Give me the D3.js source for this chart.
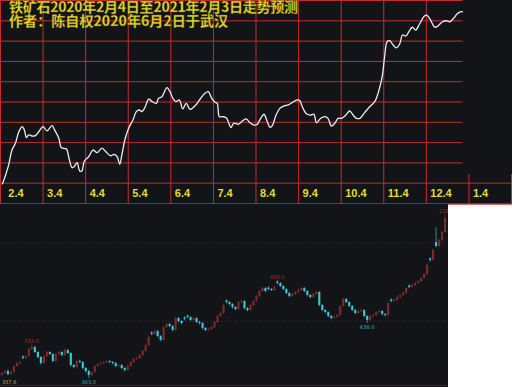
<!DOCTYPE html>
<html>
<head>
<meta charset="utf-8">
<script src="https://cdn.jsdelivr.net/npm/d3@7"></script>
<style>
    body { margin: 0; background: #131417; }
    svg { display: block; }
</style>
</head>
<body>
<div id="chart"></div>
<script>
// ---- data ----
var titleLines = ['铁矿石2020年2月4日至2021年2月3日走势预测', '作者：陈自权2020年6月2日于武汉'];
var monthLabels = ['2.4', '3.4', '4.4', '5.4', '6.4', '7.4', '8.4', '9.4', '10.4', '11.4', '12.4', '1.4'];

// forecast line: months since Feb 4, value in % of grid height
var forecastMonth = [0.04,0.12,0.19,0.27,0.35,0.43,0.51,0.56,0.61,0.66,
    0.74,0.82,0.90,1.00,1.09,1.21,1.27,1.37,1.43,1.55,
    1.60,1.68,1.73,1.80,1.86,1.91,1.97,2.07,2.17,2.27,
    2.38,2.46,2.58,2.67,2.74,2.80,2.85,2.93,3.01,3.11,
    3.19,3.26,3.32,3.40,3.48,3.56,3.66,3.71,3.79,3.91,
    3.98,4.05,4.12,4.20,4.28,4.36,4.45,4.57,4.69,4.80,
    4.88,4.96,5.04,5.09,5.14,5.22,5.30,5.35,5.41,5.48,
    5.59,5.66,5.77,5.86,5.95,6.03,6.11,6.19,6.25,6.33,
    6.39,6.47,6.56,6.66,6.76,6.86,6.95,7.03,7.07,7.17,
    7.27,7.36,7.42,7.52,7.62,7.69,7.77,7.85,7.93,8.01,
    8.11,8.20,8.28,8.36,8.44,8.55,8.67,8.79,8.84,8.91,
    8.97,9.02,9.08,9.14,9.22,9.30,9.38,9.44,9.52,9.59,
    9.67,9.75,9.84,9.94,10.01,10.09,10.20,10.27,10.38,10.47,
    10.55,10.64,10.72,10.80,10.86];
var forecastValue = [9.3,13.9,18.8,26.2,29.5,35.2,37.7,36.1,32.3,33.6,
    33.1,33.3,35.2,37.7,35.6,38.2,36.1,32.0,27.3,26.7,
    22.9,17.5,18.0,20.0,15.9,15.9,20.8,22.9,26.2,24.9,
    27.1,25.7,23.4,24.1,22.9,19.2,23.8,32.0,36.9,41.0,
    45.1,45.9,45.1,47.5,51.3,50.0,49.2,51.6,52.4,56.9,
    54.9,51.6,50.0,50.8,46.4,49.2,46.2,48.0,51.3,54.1,
    54.9,51.6,49.7,49.2,42.6,42.6,42.1,40.1,37.2,39.4,
    38.9,40.1,41.5,39.6,38.5,38.9,41.8,43.8,41.0,37.4,
    38.5,43.4,46.7,47.9,48.4,49.7,50.8,50.5,48.4,44.3,
    43.4,43.8,39.6,41.8,42.6,41.8,38.0,39.4,41.8,41.8,
    43.4,45.4,43.4,41.8,41.8,44.6,47.5,50.0,52.4,57.4,
    63.1,72.1,79.5,80.0,77.9,76.5,78.7,82.8,82.3,84.4,
    86.6,85.2,88.2,91.8,92.6,90.5,86.6,87.2,89.3,89.8,
    89.3,91.0,93.1,94.2,94.2];

// candles (price)
var candleOpen = [378,388,398,383,393,423,438,470,463,473,
    508,518,493,468,438,473,493,483,448,483,
    493,478,503,488,428,418,448,443,413,398,
    378,393,423,433,438,443,448,443,438,423,
    428,413,403,423,443,458,463,478,498,528,
    590,583,598,573,553,618,633,623,603,663,
    648,665,675,668,653,663,643,638,613,603,
    608,618,643,673,688,750,743,733,718,708,
    743,748,713,703,728,748,773,798,813,815,
    808,803,845,838,823,808,788,773,783,793,
    803,813,798,778,768,783,793,728,703,693,
    673,663,668,678,723,758,743,723,703,688,
    698,703,673,653,673,678,693,698,683,678,
    755,748,753,768,778,788,825,818,828,838,
    848,863,883,960,953,1043,1023,1053,1093];
var candleClose = [388,398,383,393,423,438,443,463,473,508,
    518,493,468,438,473,493,483,448,483,493,
    478,503,488,428,418,448,443,413,398,378,
    393,423,433,438,443,448,443,438,423,428,
    413,403,423,443,458,463,478,498,528,568,
    583,598,573,553,618,633,623,603,663,648,
    638,658,668,653,663,643,638,613,603,608,
    618,643,673,688,728,743,733,718,708,743,
    748,713,703,728,748,773,798,813,798,808,
    803,818,838,823,808,788,773,783,793,803,
    813,798,778,768,783,793,728,703,693,673,
    663,668,678,723,758,743,723,703,688,698,
    703,673,653,673,678,693,698,683,678,738,
    748,753,768,778,788,813,818,828,838,848,
    863,883,928,953,1003,1023,1053,1093,1163];
var candleHigh = [395,404,406,400,428,446,450,478,480,515,
    533,524,499,473,480,500,498,489,490,501,
    497,512,508,493,434,453,455,447,418,404,
    399,428,440,446,449,455,453,449,442,435,
    432,418,429,448,465,470,484,505,535,575,
    598,606,603,578,624,640,638,628,670,668,
    653,672,680,672,670,667,650,642,618,614,
    624,649,680,695,735,757,748,738,722,750,
    756,752,718,734,755,780,805,820,818,822,
    813,826,853,843,827,812,793,790,799,810,
    820,818,802,783,789,800,797,733,708,697,
    678,675,684,729,765,763,747,728,708,705,
    710,707,677,679,685,699,705,702,688,744,
    762,760,775,784,795,819,832,835,845,855,
    870,890,935,968,1010,1118,1060,1100,1183];
var candleLow = [372,383,376,378,389,418,431,456,458,468,
    503,488,462,430,433,466,477,441,443,477,
    471,474,483,421,411,413,437,406,390,363,
    371,388,418,428,432,438,437,431,416,418,
    407,396,399,418,437,452,458,473,493,522,
    576,578,566,546,548,612,617,596,598,641,
    631,651,662,646,648,637,630,606,597,598,
    603,613,638,668,683,736,726,711,701,703,
    737,706,696,698,722,743,768,792,791,802,
    797,798,831,817,801,781,767,768,778,788,
    797,792,771,761,763,777,721,696,686,666,
    656,657,663,673,718,737,716,697,681,683,
    692,666,638,648,667,673,688,677,671,673,
    741,743,748,762,773,783,811,813,822,833,
    843,858,878,945,948,1016,1017,1047,1088];

var priceGrid = [1040, 648];
// candles that carry a high / low price tag
var markIndex = [10, 29, 92, 122, 148];
var markSide = ['high', 'low', 'high', 'low', 'high'];
var startLabel = '357.6';

/**
 * Constructor for the forecast picture (line chart on top, k-line below)
 */
function ForecastChart() {
    var self = this;
    self.init();
}

ForecastChart.prototype.init = function () {
    var self = this;
    self.width = 512;
    self.height = 387;
    self.gridRight = 462.5;      // plot grid stops here, label row goes on
    self.labelRowTop = 174;      // short ticks of the last two months
    self.candleRight = 447;
    self.candleTop = 205;
    self.candleBottom = 385;

    self.svg = d3.select('#chart')
        .append('svg')
        .attr('width', self.width)
        .attr('height', self.height);

    self.svg.append('rect')
        .attr('width', self.width)
        .attr('height', self.height)
        .attr('fill', '#131417');
};

ForecastChart.prototype.update = function () {
    var self = this;
    self.drawForecast();
    self.drawCandles();
};

/**
 * Red grid, white forecast line, yellow month labels and title
 */
ForecastChart.prototype.drawForecast = function () {
    var self = this;

    var monthScale = d3.scaleLinear().domain([0, 12]).range([0.5, 511.5]);
    var rowScale = d3.scaleLinear().domain([0, 10]).range([0.5, 203.5]);
    var valueScale = d3.scaleLinear().domain([0, 100]).range([203.3, 0]);

    var grid = self.svg.append('g').attr('id', 'grid');

    grid.selectAll('.hline')
        .data(d3.range(11))
        .enter().append('line')
        .attr('class', 'hline')
        .attr('x1', 0)
        .attr('x2', function (d) { return d >= 9 ? self.width : self.gridRight; })
        .attr('y1', function (d) { return rowScale(d); })
        .attr('y2', function (d) { return rowScale(d); })
        .attr('stroke', function (d) { return d === 10 ? '#8e2a2a' : '#c42c2c'; })
        .attr('stroke-width', 1);

    grid.selectAll('.vline')
        .data(d3.range(13))
        .enter().append('line')
        .attr('class', 'vline')
        .attr('x1', function (d) { return Math.min(monthScale(d), self.width - 0.5); })
        .attr('x2', function (d) { return Math.min(monthScale(d), self.width - 0.5); })
        .attr('y1', function (d) { return d <= 10 ? 0 : self.labelRowTop; })
        .attr('y2', rowScale(10))
        .attr('stroke', '#c42c2c')
        .attr('stroke-width', 1);

    var points = forecastMonth.map(function (m, i) { return [m, forecastValue[i]]; });

    var line = d3.line()
        .x(function (d) { return monthScale(d[0]); })
        .y(function (d) { return valueScale(d[1]); })
        .curve(d3.curveCatmullRom.alpha(0.5));

    self.svg.append('path')
        .datum(points)
        .attr('d', line)
        .attr('fill', 'none')
        .attr('stroke', '#eeeeee')
        .attr('stroke-width', 1.3)
        .attr('stroke-linejoin', 'round');

    self.svg.append('g')
        .selectAll('text')
        .data(monthLabels)
        .enter().append('text')
        .text(function (d) { return d; })
        .attr('x', function (d, i) { return monthScale(i) + (i === 0 ? 7.8 : 4); })
        .attr('y', 196.7)
        .attr('fill', '#e6da2e')
        .style('font-family', '"Liberation Sans", Arial, sans-serif')
        .style('font-weight', 'bold')
        .style('font-size', '11px');

    var titleWidths = [289, 219];
    self.svg.append('g')
        .selectAll('text')
        .data(titleLines)
        .enter().append('text')
        .text(function (d) { return d; })
        .attr('x', 9)
        .attr('y', function (d, i) { return 11.5 + i * 14.2; })
        .attr('textLength', function (d, i) { return titleWidths[i]; })
        .attr('lengthAdjust', 'spacing')
        .attr('fill', '#e8de2a')
        .attr('stroke', '#5a5410')
        .attr('stroke-width', 0.3)
        .style('font-family', '"Noto Sans CJK SC", sans-serif')
        .style('font-weight', 'bold')
        .style('font-size', '14px');
};

/**
 * Lower k-line chart with red (up) and cyan (down) candles
 */
ForecastChart.prototype.drawCandles = function () {
    var self = this;

    var candleX = d3.scaleBand()
        .domain(d3.range(candleClose.length))
        .range([0, self.candleRight])
        .padding(0.3);
    var priceScale = d3.scaleLinear()
        .domain([328, 1228])
        .range([self.candleBottom, self.candleTop]);

    var group = self.svg.append('g').attr('id', 'kline');

    group.selectAll('.pgrid')
        .data(priceGrid)
        .enter().append('line')
        .attr('class', 'pgrid')
        .attr('x1', 0)
        .attr('x2', self.candleRight)
        .attr('y1', function (d) { return Math.round(priceScale(d)) + 0.5; })
        .attr('y2', function (d) { return Math.round(priceScale(d)) + 0.5; })
        .attr('stroke', '#2e2e30')
        .attr('stroke-dasharray', '1,2');

    group.append('line')
        .attr('x1', 0)
        .attr('x2', self.candleRight)
        .attr('y1', self.candleBottom + 0.5)
        .attr('y2', self.candleBottom + 0.5)
        .attr('stroke', '#3a2628');

    var bw = candleX.bandwidth();
    var idx = d3.range(candleClose.length);
    var isUp = function (i) { return candleClose[i] >= candleOpen[i]; };

    group.selectAll('.wick')
        .data(idx)
        .enter().append('line')
        .attr('class', 'wick')
        .attr('x1', function (i) { return candleX(i) + bw / 2; })
        .attr('x2', function (i) { return candleX(i) + bw / 2; })
        .attr('y1', function (i) { return priceScale(candleHigh[i]); })
        .attr('y2', function (i) { return priceScale(candleLow[i]); })
        .attr('stroke', function (i) { return isUp(i) ? '#6a2628' : '#2a98a0'; })
        .attr('stroke-width', 0.9);

    group.selectAll('.body')
        .data(idx)
        .enter().append('rect')
        .attr('class', 'body')
        .attr('x', function (i) { return candleX(i); })
        .attr('width', bw)
        .attr('y', function (i) { return priceScale(Math.max(candleOpen[i], candleClose[i])); })
        .attr('height', function (i) {
            return Math.max(1, Math.abs(priceScale(candleOpen[i]) - priceScale(candleClose[i])));
        })
        .attr('fill', function (i) { return isUp(i) ? '#7c2c2e' : '#3ccad2'; });

    group.selectAll('.mark')
        .data(markIndex)
        .enter().append('text')
        .attr('class', 'mark')
        .text(function (i, k) {
            return d3.format('.1f')(markSide[k] === 'high' ? candleHigh[i] : candleLow[i]);
        })
        .attr('x', function (i) { return candleX(i) + bw / 2; })
        .attr('y', function (i, k) {
            return markSide[k] === 'high' ? priceScale(candleHigh[i]) - 1 : priceScale(candleLow[i]) + 6;
        })
        .attr('text-anchor', function (i) { return i === candleClose.length - 1 ? 'start' : 'middle'; })
        .attr('dx', function (i) { return i === candleClose.length - 1 ? -6 : 0; })
        .attr('fill', function (i, k) { return markSide[k] === 'high' ? '#a23434' : '#34b4bc'; })
        .style('font-family', '"DejaVu Sans", sans-serif')
        .style('font-size', '5px');

    group.append('text')
        .text(startLabel)
        .attr('x', 2)
        .attr('y', priceScale(candleLow[0]) + 8)
        .attr('fill', '#b8b040')
        .style('font-family', '"DejaVu Sans", sans-serif')
        .style('font-size', '5px');

    // blank corner under the label row
    self.svg.append('rect')
        .attr('x', 448)
        .attr('y', 204.5)
        .attr('width', self.width - 448)
        .attr('height', self.height - 204.5)
        .attr('fill', '#ffffff');
    self.svg.append('line')
        .attr('x1', 448)
        .attr('x2', self.width)
        .attr('y1', 204.5)
        .attr('y2', 204.5)
        .attr('stroke', '#e06868');
};

var chart = new ForecastChart();
chart.update();
</script>
</body>
</html>
